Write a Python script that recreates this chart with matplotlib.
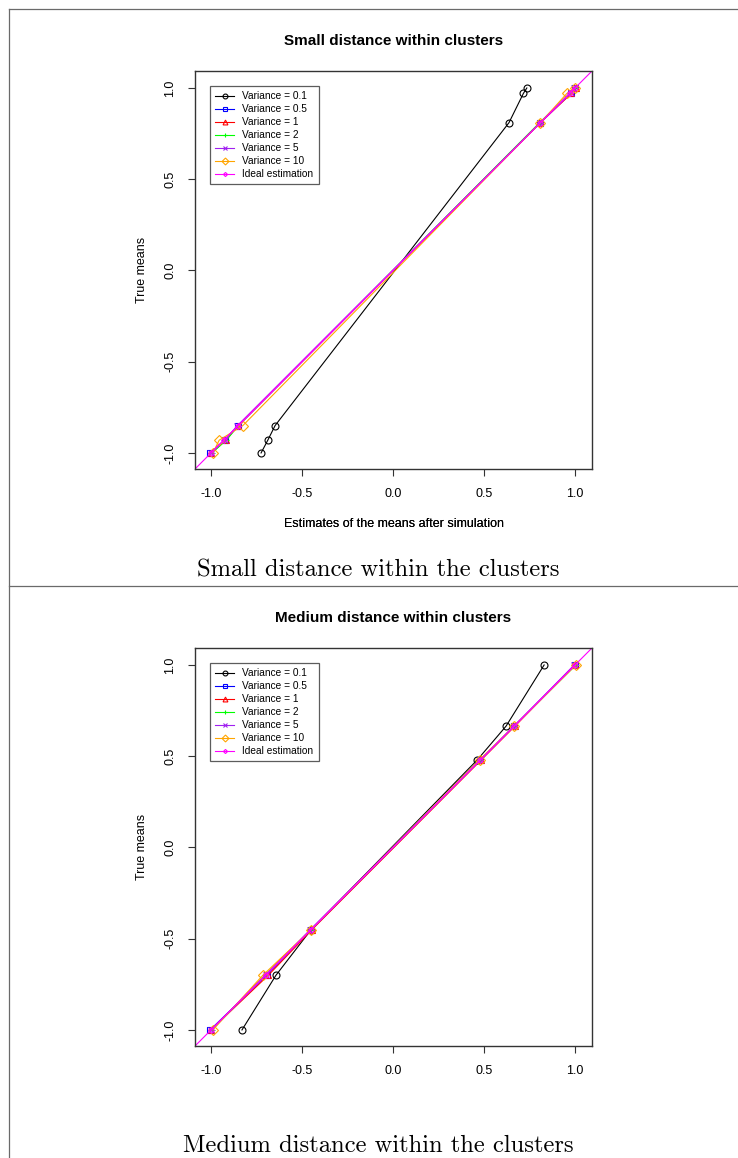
import matplotlib
matplotlib.use("Agg")
import matplotlib.pyplot as plt
from matplotlib.lines import Line2D

plt.rcParams["font.family"] = ["Liberation Sans", "DejaVu Sans"]

# ---- data -------------------------------------------------------------
series_labels = ["Variance = 0.1", "Variance = 0.5", "Variance = 1",
                 "Variance = 2", "Variance = 5", "Variance = 10"]
ideal_label = "Ideal estimation"

# Small distance within clusters: true means and estimated means per variance
small_true = [-1.0, -0.93, -0.85, 0.81, 0.97, 1.0]
small_var01 = [-0.725, -0.688, -0.648, 0.637, 0.716, 0.735]
small_var05 = [-1.005, -0.925, -0.85, 0.81, 0.975, 1.0]
small_var1 = [-1.0, -0.92, -0.85, 0.81, 0.98, 1.005]
small_var2 = [-0.995, -0.915, -0.85, 0.805, 0.97, 1.0]
small_var5 = [-1.0, -0.925, -0.855, 0.81, 0.975, 0.995]
small_var10 = [-0.99, -0.955, -0.825, 0.81, 0.955, 1.0]

# Medium distance within clusters
medium_true = [-1.0, -0.70, -0.45, 0.48, 0.665, 1.0]
medium_var01 = [-0.83, -0.643, -0.45, 0.463, 0.621, 0.83]
medium_var05 = [-1.005, -0.695, -0.45, 0.48, 0.665, 1.0]
medium_var1 = [-1.0, -0.685, -0.445, 0.485, 0.67, 1.0]
medium_var2 = [-0.995, -0.705, -0.45, 0.48, 0.665, 1.005]
medium_var5 = [-1.0, -0.70, -0.455, 0.48, 0.665, 0.995]
medium_var10 = [-0.99, -0.715, -0.45, 0.475, 0.665, 1.005]

panel_titles = ["Small distance within clusters", "Medium distance within clusters"]
captions = ["Small distance within the clusters", "Medium distance within the clusters"]
tick_values = [-1.0, -0.5, 0.0, 0.5, 1.0]
tick_labels = ["-1.0", "-0.5", "0.0", "0.5", "1.0"]
x_label = "Estimates of the means after simulation"
y_label = "True means"

# ---- styles -----------------------------------------------------------
colors = ["black", "#0000FF", "#FF0000", "#00FF00", "#A020F0", "#FFA500"]
markers = ["o", "s", "^", "+", "x", "D"]
ideal_color = "#FF00FF"

W, H = 738, 1158
fig = plt.figure(figsize=(W / 100, H / 100), dpi=100)


def fx(px):
    return px / W


def fy(py):
    return 1 - py / H


# page frame lines
frame_kw = dict(color="#6a6a6a", lw=0.9)
fig.add_artist(Line2D([fx(8.5), 1], [fy(8.5), fy(8.5)], **frame_kw))
fig.add_artist(Line2D([fx(8.5), fx(8.5)], [fy(8.5), 0], **frame_kw))
fig.add_artist(Line2D([fx(8.5), 1], [fy(585.5), fy(585.5)], **frame_kw))

panels = [
    (small_true, [small_var01, small_var05, small_var1, small_var2, small_var5, small_var10], 71, 469),
    (medium_true, [medium_var01, medium_var05, medium_var1, medium_var2, medium_var5, medium_var10], 648, 1046),
]
caption_baselines = [576.5, 1152.5]

for i, (true_vals, estimates, top_px, bot_px) in enumerate(panels):
    ax = fig.add_axes([fx(195), fy(bot_px), fx(592) - fx(195), fy(top_px) - fy(bot_px)])
    for est, col, mk, lab in zip(estimates, colors, markers, series_labels):
        ax.plot(est, true_vals, color=col, lw=0.8, marker=mk, markersize=5,
                markerfacecolor="none", markeredgecolor=col, markeredgewidth=0.8,
                label=lab)
    ax.axline((0, 0), slope=1, color=ideal_color, lw=0.8)
    ax.plot(true_vals, true_vals, color=ideal_color, lw=0.8, marker="D",
            markersize=3, markerfacecolor="none", markeredgewidth=0.8,
            label=ideal_label)

    ax.set_xlim(-1.088, 1.093)
    ax.set_ylim(-1.088, 1.093)
    ax.set_xticks(tick_values, tick_labels)
    ax.set_yticks(tick_values, tick_labels)
    ax.tick_params(direction="out", length=5, width=0.8, color="#333333",
                   labelsize=9, pad=8.5)
    plt.setp(ax.get_yticklabels(), rotation=90, va="center")
    for s in ax.spines.values():
        s.set_color("#333333")
        s.set_linewidth(1.0)

    ax.set_xlabel(x_label, fontsize=9, va="center")
    ax.xaxis.set_label_coords(0.5, (bot_px - 524) / (bot_px - top_px))
    ax.set_ylabel(y_label, fontsize=9, va="center")
    ax.yaxis.set_label_coords((142 - 195) / 397, 0.5)

    ax.text(0.5, 1 + 30 / 398, panel_titles[i], transform=ax.transAxes,
            ha="center", va="center", fontsize=11, fontweight="bold")

    leg = ax.legend(loc="upper left", bbox_to_anchor=(15 / 397, 1 - 15 / 398),
                    borderaxespad=0, fontsize=7.3, frameon=True, fancybox=False,
                    edgecolor="#333333", handlelength=1.9, handletextpad=0.8,
                    labelspacing=0.3, borderpad=0.5, markerscale=0.7)
    leg.get_frame().set_linewidth(0.9)

    fig.text(fx(378.5), fy(caption_baselines[i]), captions[i], family="cmr10",
             fontsize=17.7, ha="center", va="baseline")

fig.savefig("out.png", dpi=100)
